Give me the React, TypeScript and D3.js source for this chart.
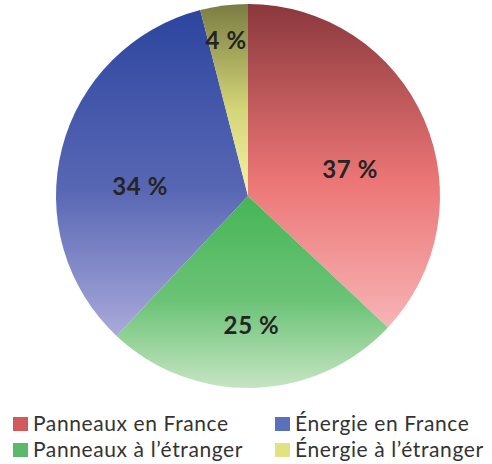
import React from "react";
import * as d3 from "d3";

const categories = ["Panneaux en France", "Panneaux à l’étranger", "Énergie en France", "Énergie à l’étranger"];
const values = [37, 25, 34, 4];
const labels = ["37 %", "25 %", "34 %", "4 %"];
const gradTop = ["#8a383d", "#45b556", "#2d459f", "#7a7d42"];
const gradMid = ["#ec7676", "#6cc377", "#5867b4", "#d4d577"];
const gradBottom = ["#f7b4b6", "#c6e5c3", "#aaa9da", "#f4f4a8"];
const legendColors = ["#d05a5c", "#5cb86a", "#5a70bb", "#e2e283"];
const legendOrder = [0, 1, 2, 3];

export default function App() {
  const W = 492, H = 464;
  const cx = 248, cy = 196, R = 192;
  const pie = d3.pie<number>().sort(null).value((d) => d);
  const arcs = pie(values);
  const arc = d3.arc<d3.PieArcDatum<number>>().innerRadius(0).outerRadius(R);
  const labelFactor = (d: d3.PieArcDatum<number>) => (d.endAngle - d.startAngle < 0.5 ? 0.91 : 0.58);
  const labelDy = 17;

  const bounds = (a: d3.PieArcDatum<number>) => {
    const pts: [number, number][] = [[0, 0]];
    const n = 60;
    for (let k = 0; k <= n; k++) {
      const t = a.startAngle + ((a.endAngle - a.startAngle) * k) / n;
      pts.push([R * Math.sin(t), -R * Math.cos(t)]);
    }
    const ys = pts.map((p) => p[1]);
    return [d3.min(ys)!, d3.max(ys)!];
  };

  return (
    <svg width={W} height={H} style={{ position: "absolute", left: 0, top: 0 }}>
      <defs>
        {arcs.map((a, i) => {
          const [y0, y1] = bounds(a);
          return (
            <linearGradient key={i} id={`g${i}`} gradientUnits="userSpaceOnUse" x1={0} y1={y0} x2={0} y2={y1}>
              <stop offset="0" stopColor={gradTop[i]} />
              <stop offset="0.55" stopColor={gradMid[i]} />
              <stop offset="1" stopColor={gradBottom[i]} />
            </linearGradient>
          );
        })}
      </defs>
      <g transform={`translate(${cx},${cy})`}>
        {arcs.map((a, i) => (
          <path key={i} d={arc(a) || ""} fill={`url(#g${i})`} />
        ))}
      </g>
      <g>
        {arcs.map((a, i) => {
          const mid = (a.startAngle + a.endAngle) / 2;
          const r = R * labelFactor(a);
          return (
            <text
              key={i}
              x={cx + r * Math.sin(mid)}
              y={cy - r * Math.cos(mid) + labelDy}
              textAnchor="middle"
              dominantBaseline="central"
              fontFamily="Lato, sans-serif"
              fontWeight={700}
              fontSize={24}
              letterSpacing={0.6}
              fill="#242424"
            >
              {labels[i]}
            </text>
          );
        })}
      </g>
      <g fontFamily="Lato, sans-serif" fontSize={21} letterSpacing={0.6} fill="#333">
        {legendOrder.map((ci, k) => {
          const col = Math.floor(k / 2);
          const row = k % 2;
          const x = col === 0 ? 13 : 275;
          const y = 417 + row * 26;
          return (
            <g key={ci}>
              <rect x={x} y={y} width={15} height={14} fill={legendColors[ci]} />
              <text x={x + 20} y={y + 14}>{categories[ci]}</text>
            </g>
          );
        })}
      </g>
    </svg>
  );
}
